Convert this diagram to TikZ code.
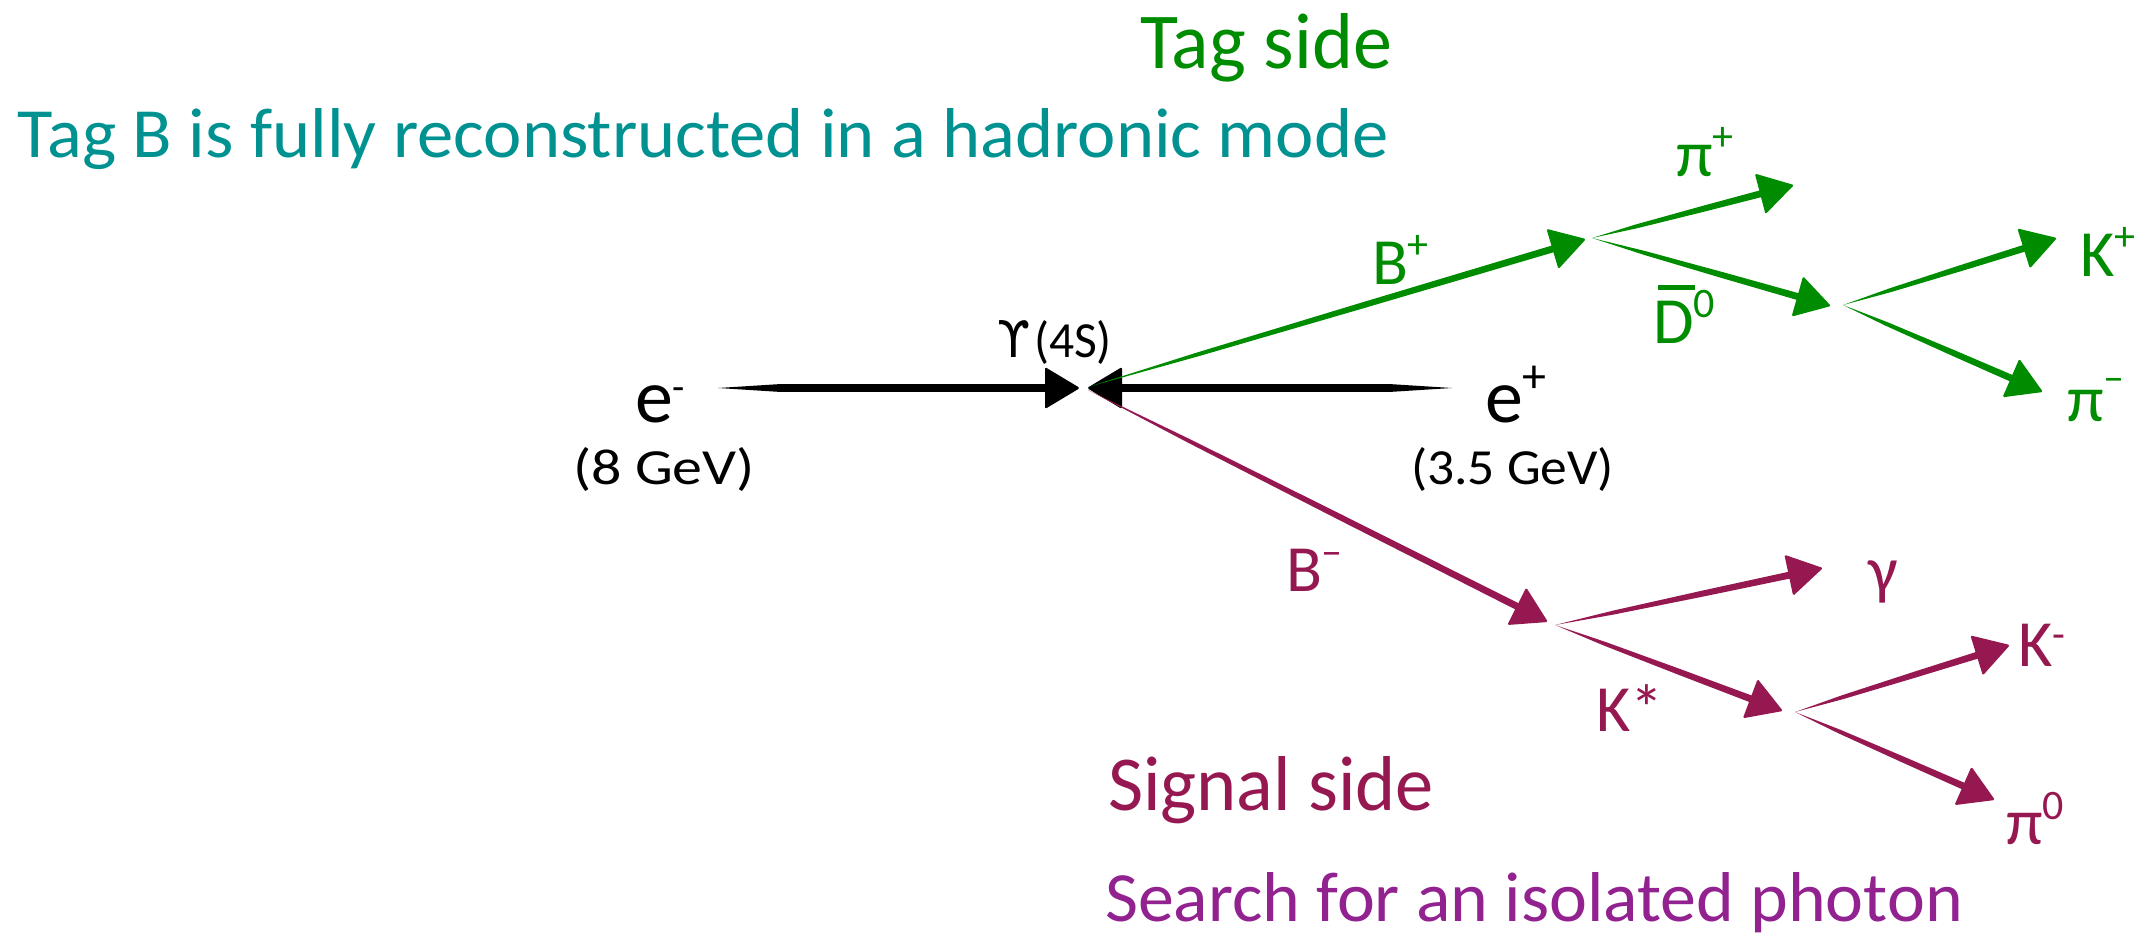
\documentclass[tikz,border=0pt]{standalone}
\usepackage{fontspec}
\setmainfont{Carlito}
\newfontfamily\dvs{DejaVu Sans}
\usetikzlibrary{calc}
\definecolor{tagg}{RGB}{0,140,0}
\definecolor{tealx}{RGB}{0,145,145}
\definecolor{sigm}{RGB}{150,24,80}
\definecolor{purp}{RGB}{146,34,144}
\newcommand\fitto[3]{\resizebox{#1pt}{#2pt}{#3}}
\newcommand\supr[2]{\raisebox{#1pt}{\fontsize{42}{42}\selectfont #2}}
\newcommand\barD{\rlap{\kern0.08em\rule[0.8em]{0.55em}{0.085em}}D}
% tapered coloured arrow: tail, tip, colour
\newcommand\tarrow[3]{%
  \coordinate (hb) at ($(#2)!35pt!(#1)$);
  \coordinate (sb) at ($(#2)!27pt!(#1)$);
  \coordinate (pa) at ($(#1)!0.22!(#2)$);
  \coordinate (pb) at ($(#1)!0.55!(#2)$);
  \fill[#3] (#1) -- ($(pa)!2.0pt!90:(#2)$) -- ($(pb)!3.0pt!90:(#2)$) -- ($(sb)!3.5pt!90:(#2)$)
     -- ($(sb)!3.5pt!-90:(#2)$) -- ($(pb)!3.0pt!-90:(#2)$) -- ($(pa)!2.0pt!-90:(#2)$) -- cycle;
  \fill[#3, rounded corners=1.5pt] (#2) -- ($(hb)!21pt!90:(#2)$) -- ($(hb)!21pt!-90:(#2)$) -- cycle;
}
% beam arrow: tail, tip
\newcommand\barrow[2]{%
  \coordinate (hb) at ($(#2)!35pt!(#1)$);
  \coordinate (sb) at ($(#2)!27pt!(#1)$);
  \coordinate (ta) at ($(#1)!60pt!(#2)$);
  \fill[black] (#1) -- ($(ta)!3.8pt!90:(#2)$) -- ($(sb)!3.8pt!90:(#2)$) -- ($(sb)!3.8pt!-90:(#2)$) -- ($(ta)!3.8pt!-90:(#2)$) -- cycle;
  \fill[black, rounded corners=1.5pt] (#2) -- ($(hb)!21pt!90:(#2)$) -- ($(hb)!21pt!-90:(#2)$) -- cycle;
}
\tikzset{
  lbl/.style={inner sep=0pt, outer sep=0pt, anchor=base west, font=\fontsize{66}{66}\selectfont},
  txt/.style={inner sep=0pt, outer sep=0pt, anchor=base west}
}
\begin{document}
\begin{tikzpicture}[x=1pt,y=-1pt]
\useasboundingbox (0,0) rectangle (2148,935);
% coordinates
\coordinate (emT) at (718,388);
\coordinate (emH) at (1080,388);
\coordinate (epT) at (1452,388);
\coordinate (epH) at (1087,388);
\coordinate (ipg) at (1088,387);
\coordinate (ipm) at (1088,390);
\coordinate (bpH) at (1586,239);
\coordinate (v1) at (1592,238);
\coordinate (pipH) at (1794,185);
\coordinate (d0H) at (1831,306);
\coordinate (v2) at (1843,305);
\coordinate (kpH) at (2057,238);
\coordinate (pimH) at (2043,392);
\coordinate (bmH) at (1548,622);
\coordinate (v3) at (1555,625);
\coordinate (gH) at (1823,568);
\coordinate (ksH) at (1783,711);
\coordinate (v4) at (1795,712);
\coordinate (kmH) at (2010,645);
\coordinate (pi0H) at (1995,800);
% beams
\barrow{emT}{emH}
\barrow{epT}{epH}
% tag side
\tarrow{ipg}{bpH}{tagg}
\tarrow{v1}{pipH}{tagg}
\tarrow{v1}{d0H}{tagg}
\tarrow{v2}{kpH}{tagg}
\tarrow{v2}{pimH}{tagg}
% signal side
\tarrow{ipm}{bmH}{sigm}
\tarrow{v3}{gH}{sigm}
\tarrow{v3}{ksH}{sigm}
\tarrow{v4}{kmH}{sigm}
\tarrow{v4}{pi0H}{sigm}
% texts
\node[txt, text=tagg] (tagside) at (1140,68) {\fitto{252}{55}{Tag side}};
\node[txt, text=tealx] (tagB) at (18,157) {\fitto{1370}{49}{Tag B is fully reconstructed in a hadronic mode}};
\node[txt, text=sigm] (sigside) at (1108,810) {\fitto{326}{54}{Signal side}};
\node[txt, text=purp] (search) at (1105,921) {\fitto{858}{49}{Search for an isolated photon}};
\node[txt] (ups) at (997,357) {\fitto{33}{37}{\dvs ϒ}\kern4pt\fitto{78}{37}{(4S)}};
\node[lbl, font=\fontsize{76}{76}\selectfont] (em) at (635,422) {e\supr{22}{\fontsize{40}{40}\selectfont -}};
\node[lbl, font=\fontsize{76}{76}\selectfont] (ep) at (1485,422) {e\supr{30}{\fontsize{48}{48}\selectfont +}};
\node[txt] (emE) at (573,484) {\fitto{182}{37}{(8 GeV)}};
\node[txt] (epE) at (1411,484) {\fitto{203}{37}{(3.5 GeV)}};
% particle labels
\node[lbl, text=tagg] (lbp) at (1372,284) {B\supr{26}{+}};
\node[lbl, text=tagg] (lpip) at (1676,176) {π\supr{26}{+}};
\node[lbl, text=tagg] (ld0) at (1653,343) {\barD\supr{26}{0}};
\node[lbl, text=tagg] (lkp) at (2080,276) {K\supr{26}{+}};
\node[lbl, text=tagg] (lpim) at (2067,421) {π\supr{30}{–}};
\node[lbl, text=sigm] (lbm) at (1286,591) {B\supr{26}{–}};
\node[lbl, text=sigm] (lg) at (1868,592) {γ};
\node[lbl, text=sigm] (lks) at (1596,731) {K*};
\node[lbl, text=sigm] (lkm) at (2018,666) {K\supr{18}{-}};
\node[lbl, text=sigm] (lpi0) at (2006,844) {π\supr{25}{0}};
\end{tikzpicture}
\end{document}
